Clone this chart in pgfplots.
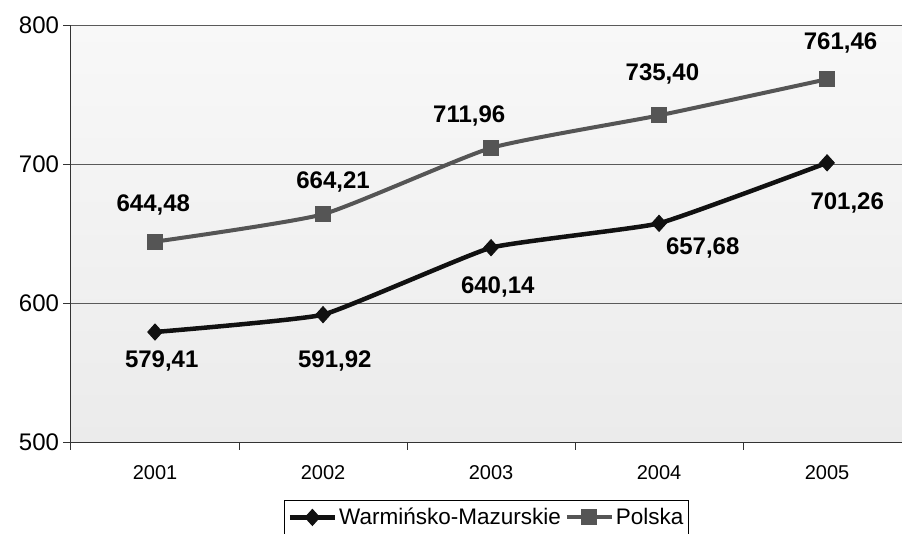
\documentclass[border=0pt]{standalone}
\usepackage{pgfplots}
\pgfplotsset{compat=1.18}
\usepackage{fontspec}
\setmainfont{Liberation Sans}
\definecolor{polska}{HTML}{555555}
\definecolor{warm}{HTML}{111111}
\definecolor{gridc}{HTML}{5A5A5A}
\definecolor{axc}{HTML}{333333}
\definecolor{bgtop}{HTML}{F8F8F8}
\definecolor{bgbot}{HTML}{EBEBEB}
\newcommand\lbl{\bfseries\fontsize{24}{28}\selectfont}
\begin{document}
\begin{tikzpicture}
\useasboundingbox (0pt,0pt) rectangle (902pt,534pt);
\begin{axis}[
  at={(71pt,91.7pt)}, anchor=south west,
  scale only axis, width=831pt, height=416.6pt,
  xmin=0.5, xmax=5.446, ymin=500, ymax=800,
  axis x line*=bottom, axis y line*=left,
  axis line style={axc, line width=1pt},
  axis background/.style={shade, top color=bgtop, bottom color=bgbot},
  ytick={500,600,700,800},
  ymajorgrids, grid style={gridc, line width=0.9pt},
  tick align=outside, major tick length=7.5pt,
  tick style={axc, line width=1pt},
  xtick={0.5,1.5,2.5,3.5,4.5}, xticklabels={,,,,},
  extra x ticks={1,2,3,4,5},
  extra x tick labels={2001,2002,2003,2004,2005},
  extra x tick style={major tick length=0pt, grid=none},
  /pgf/number format/assume math mode=true,
  yticklabel style={font=\fontsize{24}{28}\selectfont, xshift=-1pt},
  xticklabel style={font=\fontsize{20}{24}\selectfont, yshift=-20pt},
  legend style={at={(0.5,-0.1385)}, anchor=north, legend columns=2,
    draw=black, line width=0.8pt, fill=white,
    font=\fontsize{22.5}{26}\selectfont, inner xsep=3pt, inner ysep=6pt,
    /tikz/every even column/.append style={column sep=2pt}},
  legend image code/.code={\draw[mark repeat=2,mark phase=2,#1] plot coordinates {(0pt,0pt)(22.5pt,0pt)(45pt,0pt)};},
]
\addplot[warm, line width=4.5pt, smooth, tension=0.22, mark=diamond*,
  mark size=8pt, mark options={solid, fill=warm, line width=1pt, xscale=1.2}]
  coordinates {(1,579.41)(2,591.92)(3,640.14)(4,657.68)(5,701.26)};
\addlegendentry{Warmińsko-Mazurskie}
\addplot[polska, line width=4pt, smooth, tension=0.3, mark=square*,
  mark size=7.5pt, mark options={solid, fill=polska, line width=1pt}]
  coordinates {(1,644.48)(2,664.21)(3,711.96)(4,735.40)(5,761.46)};
\addlegendentry{Polska}
\node[font=\lbl] at (axis cs:0.99,670.8) {644,48};
\node[font=\lbl] at (axis cs:2.06,687.8) {664,21};
\node[font=\lbl] at (axis cs:2.87,734.9) {711,96};
\node[font=\lbl] at (axis cs:4.02,765.2) {735,40};
\node[font=\lbl] at (axis cs:5.08,787.5) {761,46};
\node[font=\lbl] at (axis cs:1.04,558.5) {579,41};
\node[font=\lbl] at (axis cs:2.07,558.5) {591,92};
\node[font=\lbl] at (axis cs:3.04,611.8) {640,14};
\node[font=\lbl] at (axis cs:4.26,639.9) {657,68};
\node[font=\lbl] at (axis cs:5.12,672.3) {701,26};
\end{axis}
\end{tikzpicture}
\end{document}
